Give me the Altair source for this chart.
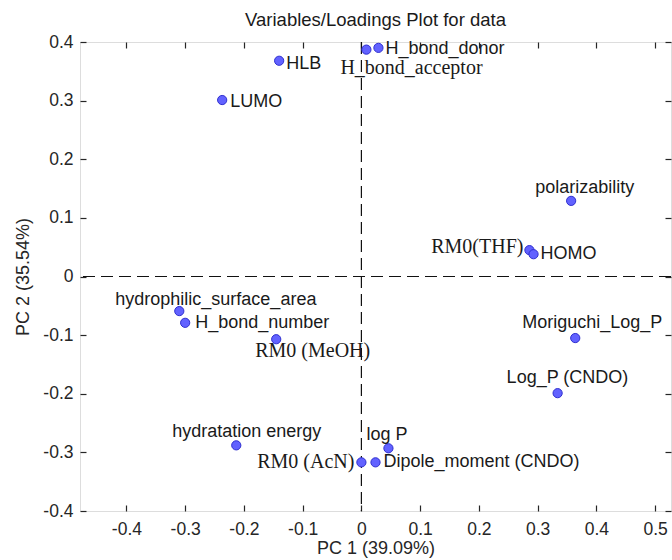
import altair as alt
import pandas as pd

# ---- data ----
names = [
    "HLB", "LUMO", "H_bond_acceptor", "H_bond_donor", "polarizability",
    "RM0(THF)", "HOMO", "hydrophilic_surface_area", "H_bond_number",
    "RM0 (MeOH)", "hydratation energy", "RM0 (AcN)", "Dipole_moment (CNDO)",
    "log P", "Moriguchi_Log_P", "Log_P (CNDO)",
]
pc1 = [-0.140, -0.237, 0.0085, 0.029, 0.357, 0.286, 0.293, -0.310, -0.300,
       -0.145, -0.213, 0.000, 0.024, 0.046, 0.364, 0.334]
pc2 = [0.368, 0.301, 0.387, 0.390, 0.129, 0.045, 0.038, -0.059, -0.079,
       -0.107, -0.288, -0.317, -0.317, -0.293, -0.105, -0.199]

x_ticks = [-0.4, -0.3, -0.2, -0.1, 0.0, 0.1, 0.2, 0.3, 0.4, 0.5]
y_ticks = [-0.4, -0.3, -0.2, -0.1, 0.0, 0.1, 0.2, 0.3, 0.4]
ref_x = [0.0]
ref_y = [0.0]

title_text = "Variables/Loadings Plot for data"
x_title = "PC 1 (39.09%)"
y_title = "PC 2 (35.54%)"

# ---- label placement (layout, not data) ----
SANS = "Liberation Sans"
SERIF = "Liberation Serif"
label_layout = {
    "HLB": (7, 3, "left", SANS),
    "LUMO": (8, 2, "left", SANS),
    "H_bond_acceptor": (-26, 18, "left", SERIF),
    "H_bond_donor": (7, 1, "left", SANS),
    "polarizability": (-36, -13, "left", SANS),
    "RM0(THF)": (-6, -3, "right", SERIF),
    "HOMO": (7, 0, "left", SANS),
    "hydrophilic_surface_area": (-64, -11, "left", SANS),
    "H_bond_number": (10, 0, "left", SANS),
    "RM0 (MeOH)": (-21, 12, "left", SERIF),
    "hydratation energy": (-64, -13, "left", SANS),
    "RM0 (AcN)": (-7, 0, "right", SERIF),
    "Dipole_moment (CNDO)": (8, 0, "left", SANS),
    "log P": (-22, -13, "left", SANS),
    "Moriguchi_Log_P": (-53, -15, "left", SANS),
    "Log_P (CNDO)": (-51, -15, "left", SANS),
}

df = pd.DataFrame({"name": names, "pc1": pc1, "pc2": pc2})
df_hx = pd.DataFrame({"y": ref_y})
df_vx = pd.DataFrame({"x": ref_x})

W, H = 591, 469
TICK = 6
AX = "#262626"
xdom = [-0.479, 0.527]
ydom = [-0.4, 0.4]
xs = alt.Scale(domain=xdom, nice=False, zero=False)
ys = alt.Scale(domain=ydom, nice=False, zero=False)

lab_expr = ("datum.value == 0 ? '0' : (datum.value < 0 ? '-' + format(-datum.value, '.1f')"
            " : format(datum.value, '.1f'))")

common = dict(offset=-TICK, tickSize=TICK, tickColor=AX, tickWidth=1.2,
              domain=False, grid=False)
lab_style = dict(labelFont=SANS, labelFontSize=17.5, labelColor=AX,
                 titleFont=SANS, titleFontSize=18, titleColor=AX,
                 titleFontWeight="normal")

x_axis_main = alt.Axis(orient="bottom", values=x_ticks, labelExpr=lab_expr,
                       labelPadding=9, title=x_title, titlePadding=2,
                       **common, **lab_style)
y_axis_main = alt.Axis(orient="left", values=y_ticks, labelExpr=lab_expr,
                       labelPadding=7, title=y_title, titlePadding=10,
                       **common, **lab_style)
x_axis_top = alt.Axis(orient="top", values=x_ticks, labels=False, title=None, **common)
y_axis_right = alt.Axis(orient="right", values=y_ticks, labels=False, title=None, **common)

points = alt.Chart(df).mark_point(
    filled=True, shape="circle", size=85, fill="#6262ff", stroke="#2f2fd0",
    strokeWidth=1, opacity=1,
).encode(
    x=alt.X("pc1:Q", scale=xs, axis=x_axis_main),
    y=alt.Y("pc2:Q", scale=ys, axis=y_axis_main),
)

hline = alt.Chart(df_hx).mark_rule(color="#111111", strokeWidth=1.2, strokeDash=[12, 6]).encode(
    y=alt.Y("y:Q", scale=ys, axis=y_axis_right),
)
vline = alt.Chart(df_vx).mark_rule(color="#111111", strokeWidth=1.2, strokeDash=[12, 6]).encode(
    x=alt.X("x:Q", scale=xs, axis=x_axis_top),
)

texts = []
for nm in names:
    dx, dy, align, font = label_layout[nm]
    size = 20 if font == SERIF else 18
    t = alt.Chart(df).transform_filter(alt.datum.name == nm).mark_text(
        dx=dx, dy=dy, align=align, baseline="middle", font=font, fontSize=size,
        color="#1a1a1a",
    ).encode(
        x=alt.X("pc1:Q", scale=xs, axis=None),
        y=alt.Y("pc2:Q", scale=ys, axis=None),
        text="name:N",
    )
    texts.append(t)

chart = alt.layer(vline, hline, points, *texts).resolve_axis(
    x="independent", y="independent"
).properties(
    width=W, height=H,
    title=alt.Title(title_text, font=SANS, fontSize=18.5, fontWeight="normal",
                    color="#1a1a1a", anchor="middle", offset=4),
    autosize=alt.AutoSizeParams(type="none"),
    padding={"left": 80, "top": 42, "right": 1, "bottom": 49},
).configure_view(
    stroke=AX, strokeWidth=1.2,
).configure(background="white")

chart.save("out.html", embed_options={"renderer": "svg", "actions": False})
